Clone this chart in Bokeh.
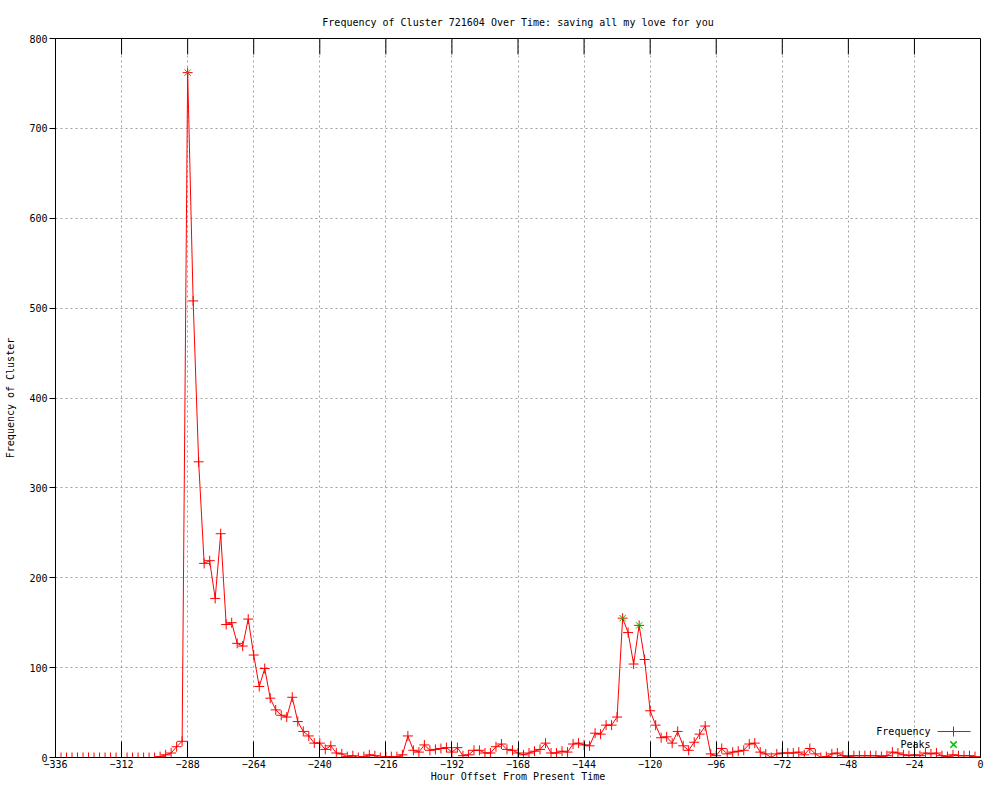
from bokeh.plotting import figure
from bokeh.models import Range1d, FixedTicker, Label, ColumnDataSource
from bokeh.embed import file_html
from bokeh.resources import INLINE

# ---- data ----
hours = list(range(-336, 0, 2))
frequency = [0] * 18 + [
    0, 1, 3, 5, 12, 18, 762, 508, 329, 216,
    219, 177, 249, 148, 150, 127, 124, 154, 114, 79,
    99, 66, 53, 47, 45, 67, 40, 29, 24, 16,
    16, 9, 13, 5, 4, 1, 2, 0, 1, 3,
    2, 0, 1, 1, 1, 3, 24, 8, 6, 14,
    8, 9, 10, 11, 6, 11, 2, 3, 8, 8,
    5, 5, 12, 15, 9, 8, 5, 3, 5, 7,
    9, 16, 5, 5, 7, 6, 15, 16, 14, 13,
    27, 26, 36, 36, 45, 155, 139, 104, 147, 109,
    52, 36, 22, 23, 16, 29, 13, 8, 17, 26,
    35, 4, 2, 10, 4, 6, 7, 8, 15, 16,
    6, 4, 0, 4, 5, 5, 5, 6, 3, 10,
    4, 0, 1, 4, 5, 2, 1, 2, 2, 2,
    2, 2, 1, 2, 6, 5, 3, 2, 3, 2,
    5, 4, 5, 2, 1, 3, 2, 2, 2, 1,
]
peak_hours = [-288, -130, -124]
peak_values = [762, 155, 147]

x_ticks = list(range(-336, 1, 24))
y_ticks = list(range(0, 801, 100))

FONT = "DejaVu Sans Mono"
FS = "10px"

W, H = 984, 784
LEFT, RIGHT, TOP = 55, 4, 38

p = figure(width=W, height=H, output_backend="svg", toolbar_location=None,
           x_range=Range1d(-336, 0), y_range=Range1d(0, 800),
           min_border_left=LEFT, min_border_right=RIGHT, min_border_top=TOP,
           min_border_bottom=20,
           title="Frequency of Cluster 721604 Over Time: saving all my love for you")

p.title.align = "center"
p.title.text_font = FONT
p.title.text_font_size = FS
p.title.text_font_style = "normal"
p.title.text_color = "black"
p.title.standoff = 22

p.outline_line_color = "black"
p.outline_line_width = 1
p.background_fill_color = "white"
p.border_fill_color = "white"

# grid
for g in (p.xgrid, p.ygrid):
    g.grid_line_color = "#a0a0a0"
    g.grid_line_dash = "2 3"
    g.grid_line_width = 1
p.xgrid.ticker = FixedTicker(ticks=x_ticks)
p.ygrid.ticker = FixedTicker(ticks=y_ticks)

# bottom axis
xa = p.xaxis[0]
xa.ticker = FixedTicker(ticks=x_ticks)
xa.major_tick_in = 16
xa.major_tick_out = 0
xa.minor_tick_line_color = None
xa.axis_line_color = "black"
xa.major_label_text_font = FONT
xa.major_label_text_font_size = FS
xa.major_label_text_color = "black"
xa.major_label_standoff = 2
xa.axis_label = "Hour Offset From Present Time"
xa.axis_label_text_font = FONT
xa.axis_label_text_font_size = FS
xa.axis_label_text_font_style = "normal"
xa.axis_label_text_color = "black"
xa.axis_label_standoff = 0

# left axis
ya = p.yaxis[0]
ya.ticker = FixedTicker(ticks=y_ticks)
ya.major_tick_in = 0
ya.major_tick_out = 6
ya.minor_tick_line_color = None
ya.axis_line_color = "black"
ya.major_label_text_font = FONT
ya.major_label_text_font_size = FS
ya.major_label_text_color = "black"
ya.major_label_standoff = 2
ya.axis_label = "Frequency of Cluster"
ya.axis_label_text_font = FONT
ya.axis_label_text_font_size = FS
ya.axis_label_text_font_style = "normal"
ya.axis_label_text_color = "black"
ya.axis_label_standoff = 10

# mirrored top ticks (inward, 16 px), drawn from the tick list
frame_h = 721.0
tick_len = 800 * 16 / frame_h
p.segment(x0=x_ticks, x1=x_ticks, y0=[800] * len(x_ticks),
          y1=[800 - tick_len] * len(x_ticks), line_color="black", line_width=1)

src = ColumnDataSource(dict(h=hours, f=frequency))
p.line("h", "f", source=src, line_color="#ff0000", line_width=1)
p.scatter("h", "f", source=src, marker="cross", size=10, line_color="#ff0000", line_width=1)

psrc = ColumnDataSource(dict(h=peak_hours, f=peak_values))
p.scatter("h", "f", source=psrc, marker="x", size=9, line_color="#00c000", line_width=1)

# key (gnuplot style: label then sample)
p.add_layout(Label(x=875, y=26, x_units="screen", y_units="screen", text="Frequency",
                   text_font=FONT, text_font_size=FS, text_align="right",
                   text_baseline="middle", text_color="black"))
p.add_layout(Label(x=875, y=13, x_units="screen", y_units="screen", text="Peaks",
                   text_font=FONT, text_font_size=FS, text_align="right",
                   text_baseline="middle", text_color="black"))
key_src = ColumnDataSource(dict(x=[-15.6, -3.6], y=[28.9, 28.9]))
p.line("x", "y", source=key_src, line_color="#ff0000", line_width=1)
p.scatter(x=[-9.8], y=[28.9], marker="cross", size=10, line_color="#ff0000", line_width=1)
p.scatter(x=[-9.8], y=[14.4], marker="x", size=9, line_color="#00c000", line_width=1.5)

open("out.html", "w").write(file_html(p, INLINE))
